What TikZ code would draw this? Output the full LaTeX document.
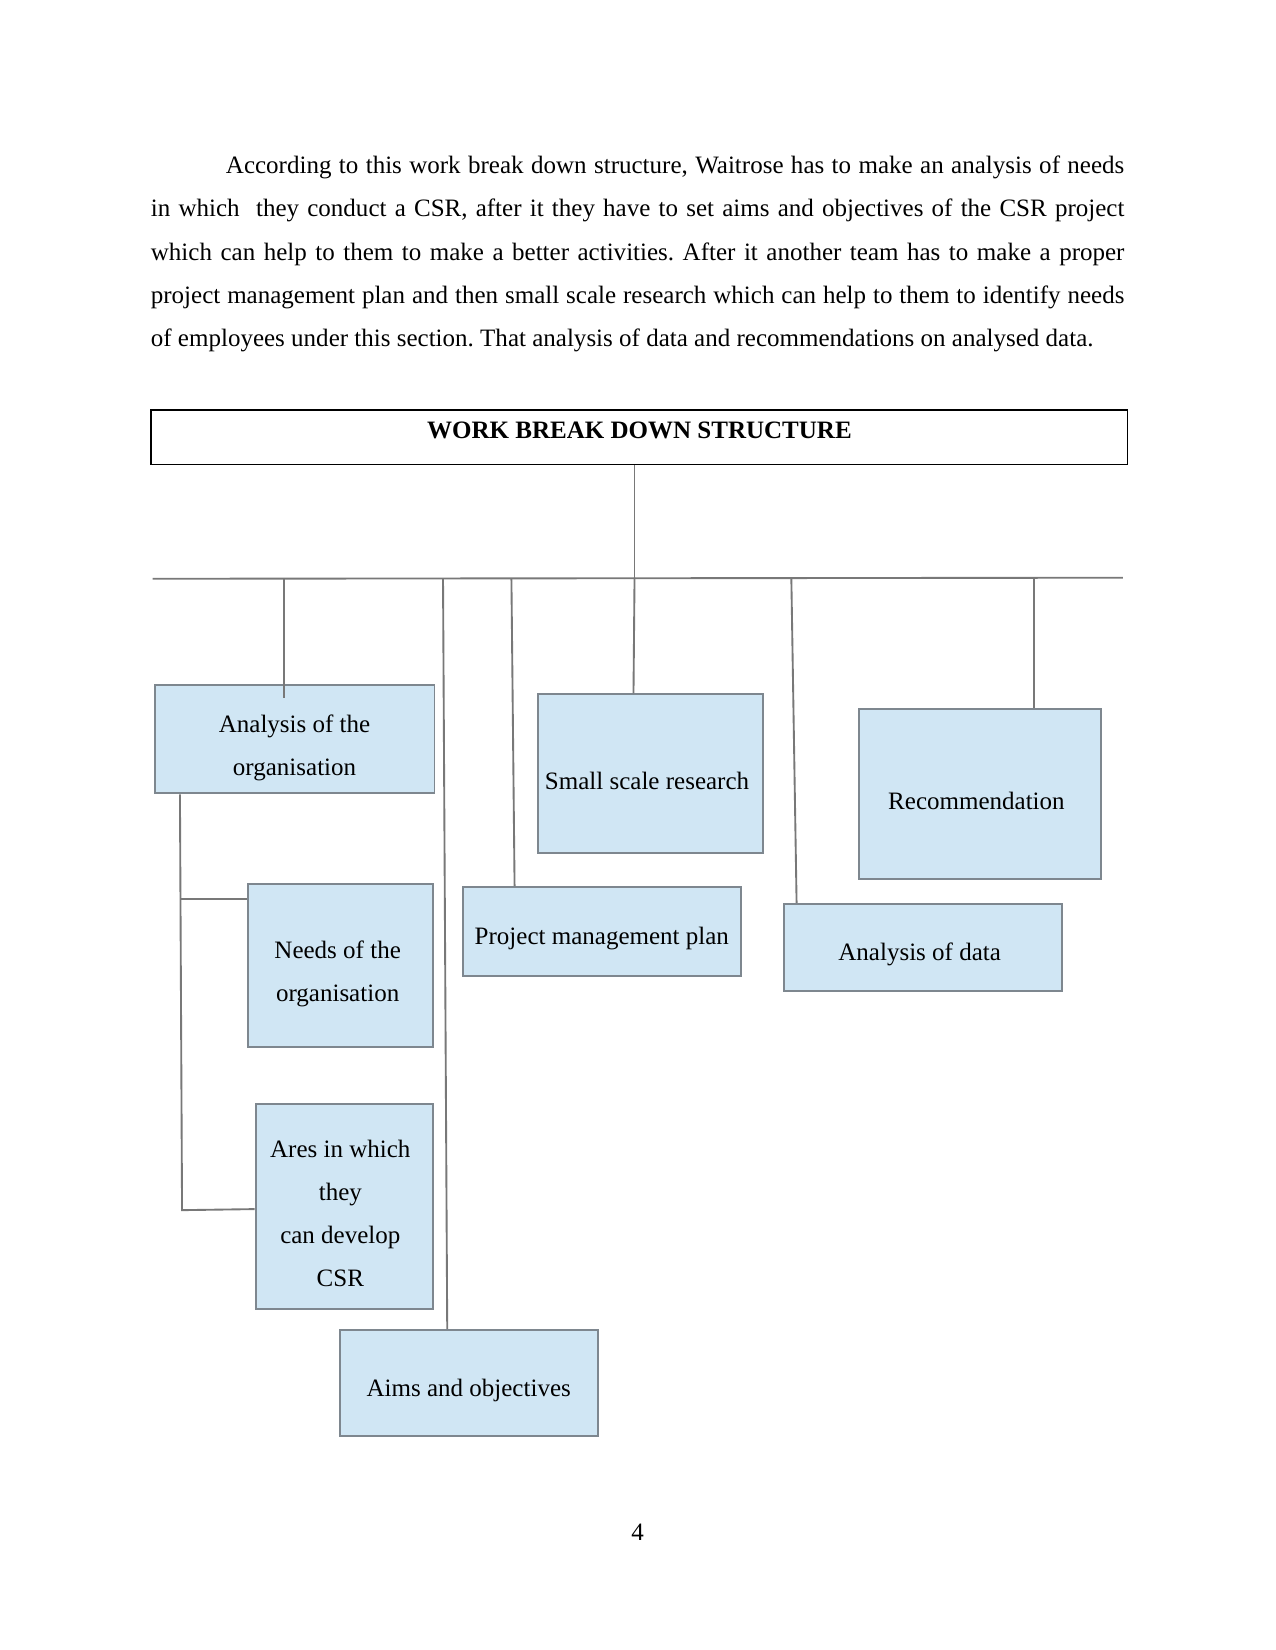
\documentclass[tikz,border=0pt]{standalone}
\usepackage{fontspec}
\setmainfont{Liberation Serif}
\usetikzlibrary{positioning}
\definecolor{boxfill}{HTML}{D0E6F4}
\definecolor{boxline}{HTML}{7E878F}
\definecolor{connline}{HTML}{787878}
\tikzset{
  pagefont/.style = {font=\fontsize{12pt}{20.7pt}\selectfont},
  wbsbox/.style   = {draw=boxline, fill=boxfill, line width=0.9pt, inner sep=0pt, anchor=north west},
  boxtext/.style  = {pagefont, align=center, inner sep=0pt},
  connln/.style   = {connline, line width=0.9pt}
}

\begin{document}
\frenchspacing
\begin{tikzpicture}[x=0.5048pt, y=-0.5048pt]
  \useasboundingbox (0,0) rectangle (1212,1568);
  % introduction paragraph
  \node[pagefont, text width=467pt, align=justify, inner sep=0pt, anchor=north west] (intro) at (143,148)
    {\hspace*{36pt}According to this work break down structure, Waitrose has to make an analysis of needs\linebreak
     in which\ \ they conduct a CSR, after it they have to set aims and objectives of the CSR project\linebreak
     which can help to them to make a better activities. After it another team has to make a proper\linebreak
     project management plan and then small scale research which can help to them to identify needs\linebreak
     of employees under this section. That analysis of data and recommendations on analysed data.};
  % title
  \node[wbsbox, draw=black, fill=white, line width=0.6pt, minimum width=468.5pt, minimum height=26.2pt] (title) at (143,389) {};
  \node[boxtext] (title-t) at ([yshift=3.5pt]title.center) {\bfseries WORK BREAK DOWN STRUCTURE};
  % boxes
  \node[wbsbox, minimum width=134.3pt, minimum height=52pt]   (organa) at (146,650)  {};
  \node[wbsbox, minimum width=108pt,   minimum height=76.2pt] (ssr)    at (510,659)  {};
  \node[wbsbox, minimum width=116.1pt, minimum height=81.3pt] (recom)  at (815,673)  {};
  \node[wbsbox, minimum width=88.8pt,  minimum height=78.2pt] (needs)  at (235,839)  {};
  \node[wbsbox, minimum width=133.3pt, minimum height=42.9pt] (pmp)    at (439,842)  {};
  \node[wbsbox, minimum width=133.3pt, minimum height=41.9pt] (datana) at (744,858)  {};
  \node[wbsbox, minimum width=85.3pt,  minimum height=98.4pt] (ares)   at (242,1048) {};
  \node[wbsbox, minimum width=123.7pt, minimum height=51pt]   (aims)   at (322,1263) {};
  \node[boxtext] (organa-t) at ([yshift=-4pt]organa.center)             {Analysis of the\\organisation};
  \node[boxtext] (ssr-t)    at ([xshift=-1.5pt,yshift=-3.5pt]ssr.center)    {Small scale research};
  \node[boxtext] (recom-t)  at ([xshift=-1.5pt,yshift=-3.5pt]recom.center)  {Recommendation};
  \node[boxtext] (needs-t)  at ([xshift=-1.5pt,yshift=-4pt]needs.center)    {Needs of the\\organisation};
  \node[boxtext] (pmp-t)    at ([yshift=-3.5pt]pmp.center)                  {Project management plan};
  \node[boxtext] (datana-t) at ([xshift=-1.5pt,yshift=-3.5pt]datana.center) {Analysis of data};
  \node[boxtext] (ares-t)   at ([xshift=-2pt,yshift=-3.5pt]ares.center)     {Ares in which\\they\\can develop\\CSR};
  \node[boxtext] (aims-t)   at ([yshift=-3.5pt]aims.center)                 {Aims and objectives};
  % connectors
  \coordinate (bus-l) at (145,550);
  \coordinate (bus-r) at (1067,549);
  \coordinate (hub)   at (603,549);
  \coordinate (b1) at (270,550);
  \coordinate (b2) at (421,550);
  \coordinate (b3) at (486,550);
  \coordinate (b4) at (752,549);
  \coordinate (b5) at (983,549);
  \draw[connln] (title.south -| hub) -- (hub);
  \draw[connln] (bus-l) -- (bus-r);
  \draw[connln] (b1) -- ++(0,113);
  \draw[connln] (b2) -- (aims.north -| 425,0);
  \draw[connln] (b3) -- (pmp.north -| 489,0);
  \draw[connln] (hub) -- (ssr.north -| 602,0);
  \draw[connln] (b4) -- (datana.north -| 757,0);
  \draw[connln] (b5) -- (recom.north -| b5);
  \coordinate (lk-n) at (172,854);
  \coordinate (lk)   at (173,1150);
  \draw[connln] (organa.south -| 171,0) -- (lk) -- (ares.west |- 0,1149);
  \draw[connln] (lk-n) -- (needs.west |- lk-n);
  % page number
  \node[pagefont] (pgnum) at (606,1456) {4};
\end{tikzpicture}
\end{document}
